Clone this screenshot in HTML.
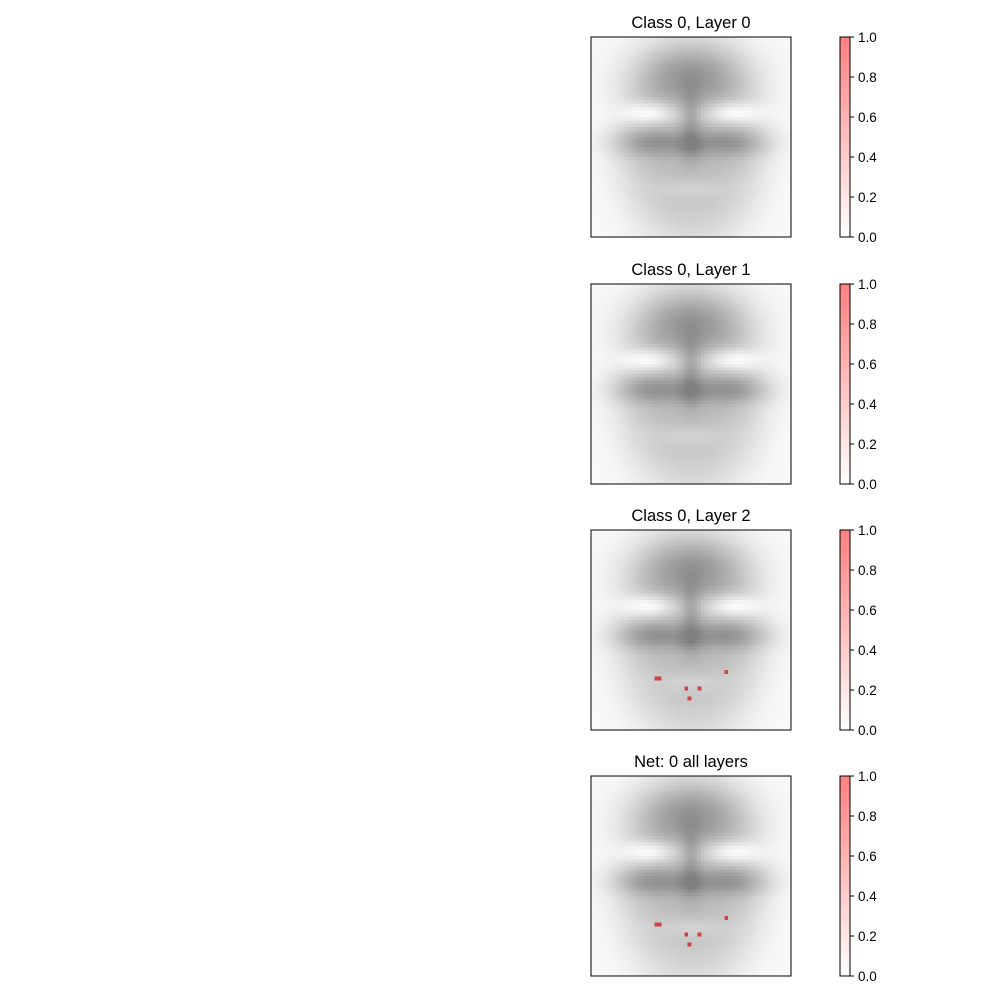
<!DOCTYPE html>
<html><head><meta charset="utf-8"><style>
body{margin:0;background:#fff;width:1000px;height:1000px;overflow:hidden;font-family:"Liberation Sans","DejaVu Sans",sans-serif;}
#root{position:relative;width:1000px;height:1000px;}
</style></head><body>
<div id="root">
<svg id="fig" width="1000" height="1000" xmlns="http://www.w3.org/2000/svg">
<defs><linearGradient id="cb" x1="0" y1="1" x2="0" y2="0"><stop offset="0" stop-color="#ffffff"/><stop offset="1" stop-color="#ff8080"/></linearGradient></defs>
</svg>
</div>
<script>
const titles = ["Class 0, Layer 0","Class 0, Layer 1","Class 0, Layer 2","Net: 0 all layers"];
const panelTops = [37,284,530,776];
const gridN = 60;
// face outline (super-gaussian)
const faceCx = 0.5, faceCy = 0.53, faceSx = 0.34, faceSy = 0.48, faceAmt = 55;
// feature blobs: cx, cy, sx, sy (fractions), darkness amount
const blobCx = [0.5,0.5,0.3,0.7,0.3,0.7,0.5,0.5,0.5];
const blobCy = [0.19,0.42,0.53,0.53,0.38,0.38,0.76,0.55,0.66];
const blobSx = [0.2,0.035,0.14,0.14,0.1,0.1,0.12,0.06,0.2];
const blobSy = [0.11,0.12,0.05,0.05,0.04,0.04,0.03,0.05,0.03];
const blobAmt = [55,30,50,50,-55,-55,-15,20,5];
// red highlighted cells (col,row) shown in panels 2 and 3
const redCols = [19,20,40,28,32,29];
const redRows = [44,44,42,47,47,50];
const redPanels = [2,3];
const cbTicks = [0.0,0.2,0.4,0.6,0.8,1.0];

const NS="http://www.w3.org/2000/svg";
const svg=document.getElementById('fig');
function mk(t,a){const e=document.createElementNS(NS,t);for(const k in a)e.setAttribute(k,a[k]);return e;}
const X0=591,W=200,CBX=840,CBW=10;
const cell=W/gridN;
function gray(c,r){
  const fx=(c+0.5)/gridN, fy=(r+0.5)/gridN;
  const fdx=(fx-faceCx)/faceSx, fdy=(fy-faceCy)/faceSy, q=fdx*fdx+fdy*fdy;
  let d=faceAmt*Math.exp(-0.7*q*q);
  for(let i=0;i<blobCx.length;i++){const dx=(fx-blobCx[i])/blobSx[i],dy=(fy-blobCy[i])/blobSy[i];d+=blobAmt[i]*Math.exp(-0.5*(dx*dx+dy*dy));}
  let g=Math.round(249-d);return Math.max(128,Math.min(250,g));
}
panelTops.forEach((top,p)=>{
  const g=mk('g',{});
  
  
  svg.appendChild(g);
  const t=mk('text',{x:X0+W/2,y:top-9,'text-anchor':'middle','font-size':'16.5',fill:'#000'});
  t.textContent=titles[p];
  
  
  g.appendChild(t);
  const hm=mk('g',{'shape-rendering':'crispEdges'});
  
  
  g.appendChild(hm);
  for(let r=0;r<gridN;r++)for(let c=0;c<gridN;c++){
    const v=gray(c,r);
    hm.appendChild(mk('rect',{x:(X0+c*cell).toFixed(2),y:(top+r*cell).toFixed(2),width:(cell+0.4).toFixed(2),height:(cell+0.4).toFixed(2),fill:`rgb(${v},${v},${v})`}));
  }
  if(redPanels.includes(p)){
    for(let i=0;i<redCols.length;i++){
      const rc=mk('rect',{x:X0+redCols[i]*cell,y:top+redRows[i]*cell,width:cell+0.5,height:cell+0.5,fill:'#cc4444'});
      
      
      hm.appendChild(rc);
    }
  }
  const fr=mk('rect',{x:X0,y:top,width:W,height:W,fill:'none',stroke:'#000','stroke-width':1});
  
  
  g.appendChild(fr);
  const cb=mk('rect',{x:CBX,y:top,width:CBW,height:W,fill:'url(#cb)',stroke:'#000','stroke-width':1});
  
  
  g.appendChild(cb);
  cbTicks.forEach(v=>{
    const y=top+W-v*W;
    g.appendChild(mk('line',{x1:CBX+CBW,x2:CBX+CBW+4,y1:y,y2:y,stroke:'#000','stroke-width':1}));
    const tl=mk('text',{x:CBX+CBW+8,y:y+5,'font-size':'13.5',fill:'#000'});
    tl.textContent=v.toFixed(1);
    
    
    g.appendChild(tl);
  });
});
</script>
</body></html>
